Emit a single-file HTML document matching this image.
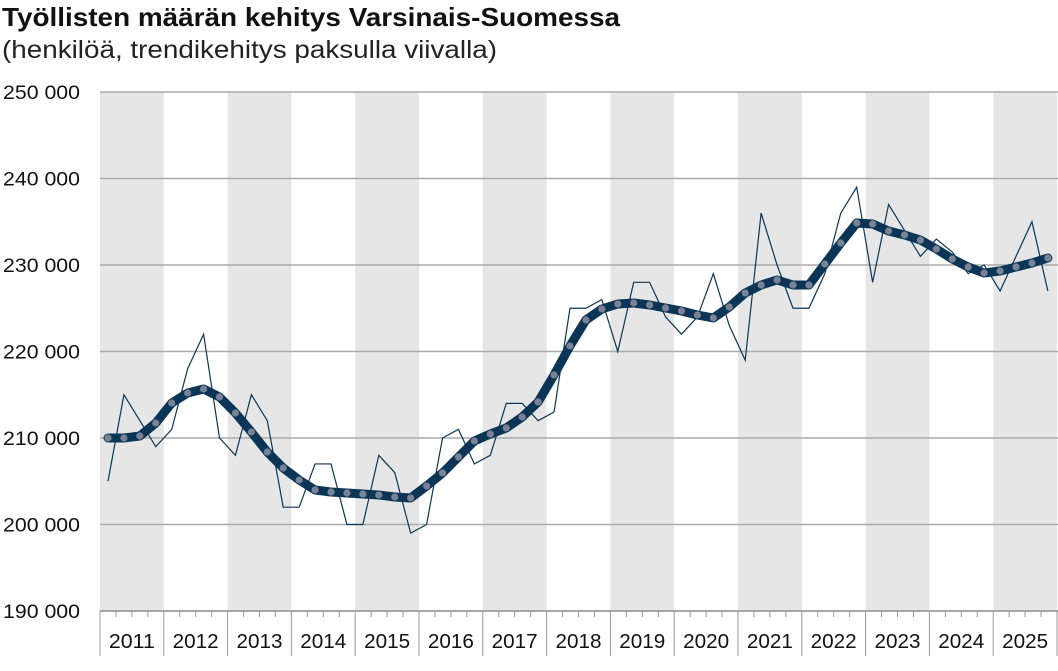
<!DOCTYPE html>
<html><head><meta charset="utf-8"><style>
body{margin:0;background:#fff;width:1058px;height:666px;overflow:hidden;font-family:"Liberation Sans",sans-serif}
</style></head><body>
<svg width="1058" height="666" xmlns="http://www.w3.org/2000/svg" font-family="Liberation Sans, sans-serif">
<text x="2" y="26" font-size="26" font-weight="bold" fill="#111" textLength="618" lengthAdjust="spacingAndGlyphs">Työllisten määrän kehitys Varsinais-Suomessa</text>
<text x="2" y="58" font-size="25" fill="#222" textLength="495" lengthAdjust="spacingAndGlyphs">(henkilöä, trendikehitys paksulla viivalla)</text>
<g id="bands"></g>
<g id="grid"></g>
<g id="ylab" font-size="19" fill="#111"></g>
<g id="xax"></g>
<polyline id="thin" fill="none" stroke="#0b3556" stroke-width="1.2"/>
<polyline id="trend" fill="none" stroke="#0b3556" stroke-width="9" stroke-linejoin="round" stroke-linecap="round"/>
<g id="dots" fill="#7a8296"></g>
</svg>
<script>
var NS="http://www.w3.org/2000/svg";
function el(t,a,p,txt){var e=document.createElementNS(NS,t);for(var k in a)e.setAttribute(k,a[k]);if(txt)e.textContent=txt;document.getElementById(p).appendChild(e);return e;}
var x0=100,yw=63.8;
for(var i=0;i<15;i++){if(i%2==0)el('rect',{x:x0+i*yw,y:92,width:yw,height:519,fill:'#e6e6e6'},'bands');}
var labs=['250 000','240 000','230 000','220 000','210 000','200 000','190 000'];
for(var j=0;j<7;j++){var y=92+j*86.5;el('line',{x1:100,x2:1058,y1:y,y2:y,stroke:'#aaa','stroke-width':1.5},'grid');
el('text',{x:3,y:y+7,textLength:77,lengthAdjust:'spacingAndGlyphs'},'ylab',labs[j]);}
for(var i=0;i<=15;i++){var x=x0+i*yw;el('line',{x1:x,x2:x,y1:611,y2:656,stroke:'#999','stroke-width':1},'xax');
if(i<15){for(var q=1;q<4;q++){var xx=x+q*yw/4;el('line',{x1:xx,x2:xx,y1:611,y2:617,stroke:'#999','stroke-width':1},'xax');}
el('text',{x:x+yw/2,y:648,'text-anchor':'middle','font-size':20,fill:'#111',textLength:46,lengthAdjust:'spacingAndGlyphs'},'xax',String(2011+i));}}
var thin=[205,215,212,209,211,218,222,210,208,215,212,202,202,207,207,200,200,208,206,199,200,210,211,207,208,214,214,212,213,225,225,226,220,228,228,224,222,224,229,223,219,236,230,225,225,229,236,239,228,237,234,231,233,231.5,229,230,227,231,235,227];
var tr=[438,438,436,423,403,393,389,397,413,432,452,468,480,490,492,493,494,495,497,498,486,473,457,441,434,428,417,402,375,346,320,309,304,303,305,308,311,315,318,307,293,285,280,285,285,264,243,223,224,231,235,240,249,259,267,273,271,267,263,258];
var pt=[],pr=[];
for(var i=0;i<60;i++){var x=108+i*15.93;pt.push(x+','+(92+(250-thin[i])*8.65));pr.push(x+','+tr[i]);el('circle',{cx:x,cy:tr[i],r:3.6},'dots');}
document.getElementById('thin').setAttribute('points',pt.join(' '));
document.getElementById('trend').setAttribute('points',pr.join(' '));
el('line',{x1:100,x2:1058,y1:611,y2:611,stroke:'#999','stroke-width':1.5},'xax');
</script>
</body></html>
